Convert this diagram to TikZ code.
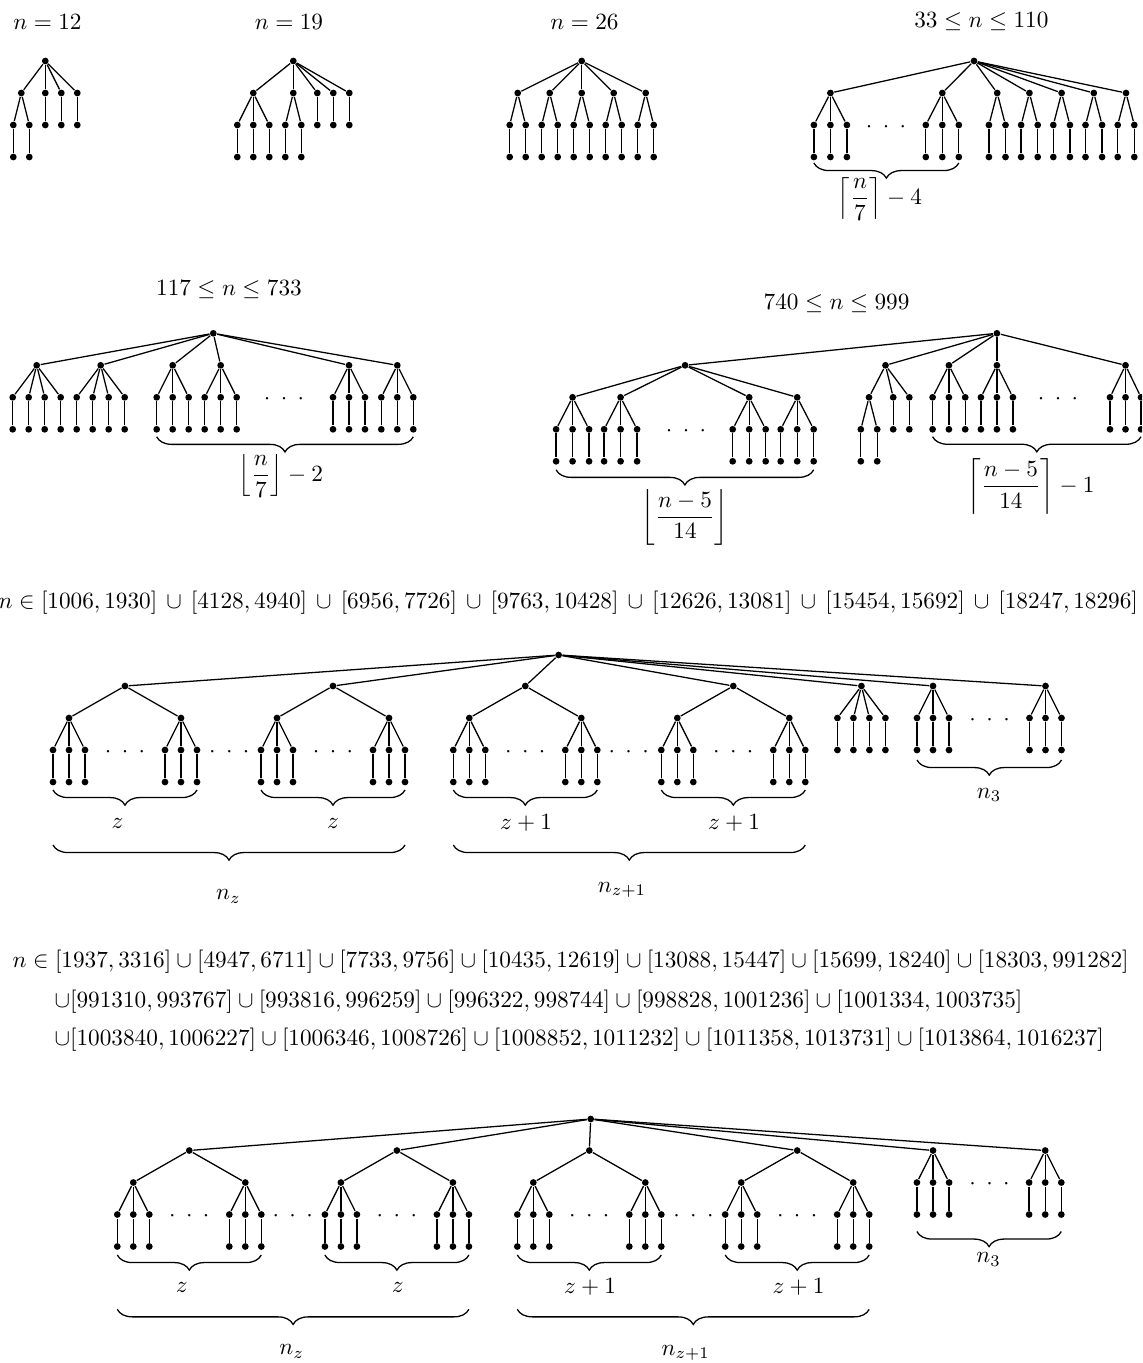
\documentclass[tikz,border=0pt]{standalone}
\usepackage{amsmath,amssymb}
\usepackage{tikz}
\usetikzlibrary{calc,decorations.pathreplacing}

\tikzset{
  dot/.style={circle, fill, inner sep=0pt, minimum size=2.9pt},
  brc/.style={decorate, decoration={brace, amplitude=6.5pt, mirror}},
  lbl/.style={inner sep=0pt}
}

% dots between subtrees
\newcommand{\hdts}{${\cdot}\hspace{4.5pt}{\cdot}\hspace{4.5pt}{\cdot}$}
% vertex with one pendant vertex below
\newcommand{\stem}[3]{%
  \node[dot] (#1) at ({#2},{#3}) {};
  \node[dot] (#1p) at ({#2},{#3+32}) {};
  \draw (#1) -- (#1p);}
% vertex with two stems below
\newcommand{\fork}[4]{%
  \node[dot] (#1) at ({#2},{#3}) {};
  \foreach \ii/\dx in {a/-1,b/1}{\stem{#1\ii}{#2+(\dx)*(#4)}{#3+32} \draw (#1) -- (#1\ii);}}
% vertex with three stems below
\newcommand{\claw}[4]{%
  \node[dot] (#1) at ({#2},{#3}) {};
  \foreach \ii/\dx in {a/-1,b/0,c/1}{\stem{#1\ii}{#2+(\dx)*(#4)}{#3+32} \draw (#1) -- (#1\ii);}}
% vertex with four stems below
\newcommand{\fan}[3]{%
  \node[dot] (#1) at ({#2},{#3}) {};
  \foreach \ii/\dx in {a/-24,b/-8,c/8,d/24}{\stem{#1\ii}{#2+(\dx)}{#3+32} \draw (#1) -- (#1\ii);}}
% vertex with two claws below
\newcommand{\bsub}[3]{%
  \node[dot] (#1) at ({#2},{#3}) {};
  \claw{#1a}{#2-56}{#3+32}{16}
  \claw{#1b}{#2+56}{#3+32}{16}
  \draw (#1) -- (#1a) (#1) -- (#1b);
  \node (#1d) at ({#2},{#3+66}) {\hdts};}

\begin{document}
\begin{tikzpicture}[x=0.43pt, y=-0.43pt, line width=0.55pt]
\useasboundingbox (0,0) rectangle (1142,1363);
\clip (0,0) rectangle (1142,1363);

% Titles
\node (tA) at (47.5,22) {$n=12$};
\node (tB) at (289,22) {$n=19$};
\node (tC) at (584.5,22) {$n=26$};
\node (tD) at (981.4,22) {$33\le n\le 110$};
\node (tE) at (229,290) {$117\le n\le 733$};
\node (tF) at (836.6,303.3) {$740\le n\le 999$};
\node[lbl, anchor=west] (tG) at (-2,603) {$n\in[1006,1930]\,\cup\,[4128,4940]\,\cup\,[6956,7726]\,\cup\,[9763,10428]\,\cup\,[12626,13081]\,\cup\,[15454,15692]\,\cup\,[18247,18296]$};
\node[lbl, anchor=west] (tH1) at (12,962) {$n\in[1937,3316]\cup[4947,6711]\cup[7733,9756]\cup[10435,12619]\cup[13088,15447]\cup[15699,18240]\cup[18303,991282]$};
\node[lbl, anchor=west] (tH2) at (54,1002) {$\cup[991310,993767]\cup[993816,996259]\cup[996322,998744]\cup[998828,1001236]\cup[1001334,1003735]$};
\node[lbl, anchor=west] (tH3) at (54,1040) {$\cup[1003840,1006227]\cup[1006346,1008726]\cup[1008852,1011232]\cup[1011358,1013731]\cup[1013864,1016237]$};

% n = 12
\node[dot] (A0) at (45.3,61) {};
\fork{A1}{21.3}{93}{8}
\stem{A2}{45.3}{93} \stem{A3}{61.3}{93} \stem{A4}{77.3}{93}
\foreach \ch in {A1,A2,A3,A4} \draw (A0) -- (\ch);

% n = 19
\node[dot] (B0) at (293.3,61) {};
\claw{B1}{253.3}{93}{16}
\fork{B2}{293.3}{93}{8}
\stem{B3}{317.3}{93} \stem{B4}{333.3}{93} \stem{B5}{349.3}{93}
\foreach \ch in {B1,B2,B3,B4,B5} \draw (B0) -- (\ch);

% n = 26
\node[dot] (C0) at (581.7,61) {};
\foreach \ch/\x in {C1/517.7,C2/549.7,C3/581.7,C4/613.7,C5/645.7}{\fork{\ch}{\x}{93}{8} \draw (C0) -- (\ch);}

% 33 <= n <= 110
\node[dot] (D0) at (974,61) {};
\claw{D1}{830.4}{93}{16.5}
\claw{D2}{942.3}{93}{16.5}
\foreach \ch/\x in {D3/997.2,D4/1029.4,D5/1061.6,D6/1093.8,D7/1126}{\fork{\ch}{\x}{93}{8.3}}
\foreach \ch in {D1,D2,D3,D4,D5,D6,D7} \draw (D0) -- (\ch);
\node (Dd) at (886,127) {\hdts};
\draw[brc] ($(D1ap)+(0,6)$) -- ($(D2cp)+(0,6)$);
\node (Dl) at (880,199) {$\left\lceil\dfrac{n}{7}\right\rceil-4$};

% 117 <= n <= 733
\node[dot] (E0) at (213.3,333.3) {};
\fan{E1}{36.7}{365.3}
\fan{E2}{100.7}{365.3}
\foreach \ch/\x in {E3/172.7,E4/220.7,E5/349,E6/397.3}{\claw{\ch}{\x}{365.3}{16}}
\foreach \ch in {E1,E2,E3,E4,E5,E6} \draw (E0) -- (\ch);
\node (Ed) at (284,399) {\hdts};
\draw[brc] ($(E3ap)+(0,7.5)$) -- ($(E6cp)+(0,7.5)$);
\node (El) at (281,476) {$\left\lfloor\dfrac{n}{7}\right\rfloor-2$};

% 740 <= n <= 999
\node[dot] (F0) at (996.9,333.3) {};
\node[dot] (F1) at (685.1,365.3) {};
\foreach \ch/\x in {F11/572.6,F12/620.6,F13/749.2,F14/797.2}{\claw{\ch}{\x}{397.3}{16.5} \draw (F1) -- (\ch);}
\node (F1d) at (686,431) {\hdts};
\draw[brc] ($(F11ap)+(0,8.5)$) -- ($(F14cp)+(0,8.5)$);
\node (Fl) at (685,517) {$\left\lfloor\dfrac{n-5}{14}\right\rfloor$};
\node[dot] (F2) at (885.5,365.3) {};
\fork{F21}{869}{397.3}{8.2}
\stem{F22}{893.2}{397.3} \stem{F23}{909.3}{397.3}
\foreach \ch in {F21,F22,F23} \draw (F2) -- (\ch);
\claw{F3}{948.9}{365.3}{16.3}
\claw{F4}{996.9}{365.3}{16}
\claw{F5}{1125.5}{365.3}{15.5}
\node (F4d) at (1058,399) {\hdts};
\foreach \ch in {F1,F2,F3,F4,F5} \draw (F0) -- (\ch);
\draw[brc] ($(F3ap)+(0,7.4)$) -- ($(F5cp)+(0,7.4)$);
\node (Fm) at (1031,486.7) {$\left\lceil\dfrac{n-5}{14}\right\rceil-1$};

% first union of intervals
\node[dot] (G0) at (558.6,655) {};
\foreach \ch/\x in {G1/125,G2/333,G3/525.3,G4/733.3}{\bsub{\ch}{\x}{686} \draw (G0) -- (\ch);}
\node (Gd1) at (229.3,752) {\hdts};
\node (Gd2) at (628.7,752) {\hdts};
\fan{G5}{861.4}{686}
\claw{G6}{933}{686}{16}
\claw{G7}{1045.5}{686}{16}
\node (Gd3) at (989.6,720) {\hdts};
\foreach \ch in {G5,G6,G7} \draw (G0) -- (\ch);
\foreach \ch in {G1,G2,G3,G4} \draw[brc] ($(\ch aap)+(0,8)$) -- ($(\ch bcp)+(0,8)$);
\node (Gz1) at (117.6,823) {$z$};
\node (Gz2) at (333,823) {$z$};
\node (Gz3) at (526,823) {$z+1$};
\node (Gz4) at (734,823) {$z+1$};
\draw[brc] ($(G6ap)+(0,10)$) -- ($(G7cp)+(0,10)$);
\node (Gn3) at (989,795) {$n_3$};
\draw[brc] ($(G1aap)+(0,63)$) -- ($(G2bcp)+(0,63)$);
\draw[brc] ($(G3aap)+(0,63)$) -- ($(G4bcp)+(0,63)$);
\node (Gnz) at (228.4,896.7) {$n_z$};
\node (Gnz1) at (622,890) {$n_{z+1}$};

% second union of intervals
\node[dot] (H0) at (590.7,1119) {};
\foreach \ch/\x in {H1/189.3,H2/396.9,H3/589.3,H4/797.2}{\bsub{\ch}{\x}{1150.5} \draw (H0) -- (\ch);}
\node (Hd1) at (292.7,1216.5) {\hdts};
\node (Hd2) at (693.4,1216.5) {\hdts};
\claw{H5}{933}{1150.5}{16.1}
\claw{H6}{1045.2}{1150.5}{16.1}
\node (Hd3) at (989.5,1184.5) {\hdts};
\foreach \ch in {H5,H6} \draw (H0) -- (\ch);
\foreach \ch in {H1,H2,H3,H4} \draw[brc] ($(\ch aap)+(0,8.5)$) -- ($(\ch bcp)+(0,8.5)$);
\node (Hz1) at (181.7,1287.3) {$z$};
\node (Hz2) at (397.7,1287.3) {$z$};
\node (Hz3) at (590,1287.3) {$z+1$};
\node (Hz4) at (798.6,1287.3) {$z+1$};
\draw[brc] ($(H5ap)+(0,17)$) -- ($(H6cp)+(0,17)$);
\node (Hn3) at (988.6,1259.3) {$n_3$};
\draw[brc] ($(H1aap)+(0,62.8)$) -- ($(H2bcp)+(0,62.8)$);
\draw[brc] ($(H3aap)+(0,62.8)$) -- ($(H4bcp)+(0,62.8)$);
\node (Hnz) at (291.7,1351.7) {$n_z$};
\node (Hnz1) at (685.7,1353) {$n_{z+1}$};

\end{tikzpicture}
\end{document}
